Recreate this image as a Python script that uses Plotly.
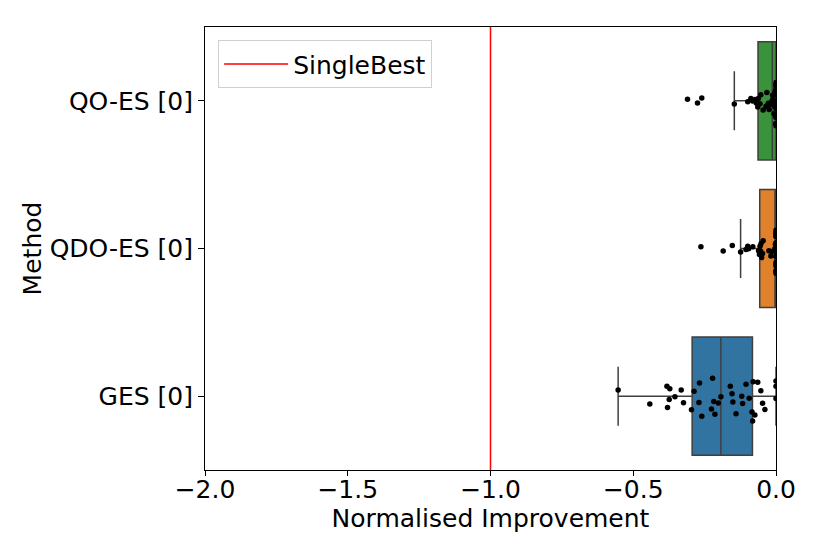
import plotly.graph_objects as go

# ---- data ----
categories = ["GES [0]", "QDO-ES [0]", "QO-ES [0]"]

ges_values = [-0.553, -0.442, -0.382, -0.380, -0.374, -0.372, -0.354, -0.332, -0.324,
              -0.296, -0.287, -0.270, -0.268, -0.260, -0.226, -0.222, -0.218, -0.214,
              -0.202, -0.193, -0.160, -0.154, -0.151, -0.140, -0.120, -0.117, -0.105,
              -0.094, -0.084, -0.082, -0.080, -0.074, -0.064, -0.053, -0.047, -0.039,
              0.0, 0.0, 0.0]

qdo_values = [-0.263, -0.185, -0.153, -0.124, -0.105, -0.099, -0.096, -0.081, -0.061,
              -0.058, -0.056, -0.054, -0.052, -0.050, -0.047, -0.045, -0.025, -0.018,
              -0.015, -0.004, -0.002, 0.0, 0.0, 0.0, 0.0, 0.0, 0.0, 0.0, 0.0, 0.0,
              0.0, 0.0, 0.0, 0.0, 0.0, 0.0, 0.0, 0.0, 0.0, 0.0]

qo_values = [-0.310, -0.275, -0.260, -0.146, -0.099, -0.088, -0.082, -0.074, -0.069,
             -0.064, -0.062, -0.056, -0.053, -0.045, -0.035, -0.032, -0.027, -0.024,
             -0.020, -0.014, -0.012, -0.011, -0.009, -0.007, -0.005, -0.004, -0.003,
             -0.002, -0.001, 0.0, 0.0, 0.0, 0.0, 0.0, 0.0, 0.0, 0.0, 0.0, 0.0, 0.0]

series = {"GES [0]": ges_values, "QDO-ES [0]": qdo_values, "QO-ES [0]": qo_values}
colors = {"GES [0]": "#3274a1", "QDO-ES [0]": "#e1812c", "QO-ES [0]": "#3a923a"}

single_best = -1.0
x_ticks = [-2.0, -1.5, -1.0, -0.5, 0.0]

FONT = "DejaVu Sans"

fig = go.Figure()

for cat in categories:
    vals = series[cat]
    fig.add_trace(go.Box(
        x=vals,
        y=[cat] * len(vals),
        orientation="h",
        name=cat,
        width=0.8,
        fillcolor=colors[cat],
        line=dict(color="#3f3f3f", width=1.5),
        boxpoints="all",
        jitter=0.45,
        pointpos=0,
        marker=dict(color="black", size=5.5, line=dict(width=0)),
        whiskerwidth=0.5,
        showlegend=False,
        hoverinfo="x",
    ))

fig.add_trace(go.Scatter(
    x=[single_best, single_best],
    y=[0, 1],
    yaxis="y2",
    mode="lines",
    line=dict(color="#ff0000", width=1.5),
    name="SingleBest",
    showlegend=True,
))

fig.update_layout(
    width=830,
    height=554,
    margin=dict(l=197, r=62, t=19, b=92),
    paper_bgcolor="white",
    plot_bgcolor="white",
    font=dict(family=FONT, size=25, color="black"),
    xaxis=dict(
        range=[-2.0, 0.0],
        tickvals=x_ticks,
        tickformat=".1f",
        ticks="outside",
        ticklen=5,
        tickcolor="black",
        ticklabelstandoff=-8,
        showline=True,
        linecolor="black",
        linewidth=1,
        mirror=True,
        showgrid=False,
        zeroline=False,
        title=dict(text="Normalised Improvement", font=dict(size=25), standoff=0),
        tickfont=dict(size=25),
    ),
    yaxis=dict(
        type="category",
        categoryorder="array",
        categoryarray=categories,
        range=[-0.5, 2.5],
        ticks="outside",
        ticklen=6,
        tickcolor="black",
        showline=True,
        linecolor="black",
        linewidth=1,
        mirror=True,
        showgrid=False,
        zeroline=False,
        title=dict(text="Method", font=dict(size=25), standoff=0),
        tickfont=dict(size=25),
    ),
    yaxis2=dict(overlaying="y", range=[0, 1], visible=False, fixedrange=True),
    legend=dict(
        x=0.023, y=0.97, xanchor="left", yanchor="top",
        bgcolor="white", bordercolor="#d0d0d0", borderwidth=1,
        font=dict(size=25, family=FONT),
        itemwidth=64,
    ),
    showlegend=True,
)

fig.write_html("out.html")
